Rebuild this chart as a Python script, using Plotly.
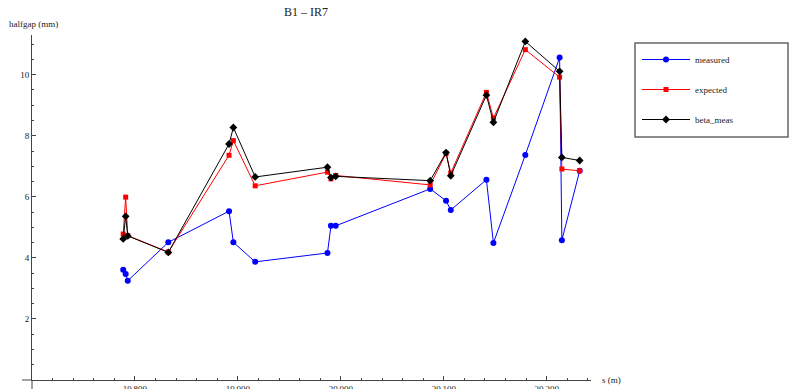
import plotly.graph_objects as go

# Collimator longitudinal positions (m) and half-gaps (mm)
s_pos = [19788.6, 19791.0, 19793.0, 19832.4, 19891.4, 19895.6, 19916.8,
         19987.0, 19990.4, 19995.0, 20086.8, 20102.2, 20106.8, 20141.4,
         20148.2, 20179.2, 20212.5, 20214.7, 20232.0]
measured = [3.61, 3.47, 3.25, 4.51, 5.53, 4.51, 3.87, 4.16, 5.05, 5.05,
            6.26, 5.87, 5.57, 6.56, 4.49, 7.37, 10.56, 4.58, 6.85]
expected = [4.78, 5.99, 4.73, 4.19, 7.36, 7.84, 6.36, 6.81, 6.59, 6.70,
            6.39, 7.42, 6.78, 9.42, 8.58, 10.82, 9.92, 6.91, 6.85]
beta_meas = [4.62, 5.36, 4.72, 4.18, 7.73, 8.27, 6.65, 6.97, 6.63, 6.67,
             6.53, 7.45, 6.69, 9.33, 8.44, 11.09, 10.11, 7.29, 7.19]

x_ticks = [19800, 19900, 20000, 20100, 20200]
x_labels = ["19\u2009800", "19\u2009900", "20\u2009000", "20\u2009100", "20\u2009200"]
y_ticks = [2, 4, 6, 8, 10]

FONT = "'Liberation Serif', 'Times New Roman', serif"
W, H = 789, 389
ML, MR, MT, MB = 32, 198, 35, 9
PW, PH = W - ML - MR, H - MT - MB

fig = go.Figure()
series = [
    ("measured", measured, "#0000ff", "circle", 6),
    ("expected", expected, "#ff0000", "square", 5),
    ("beta_meas", beta_meas, "#000000", "diamond", 6),
]
for name, vals, col, sym, sz in series:
    fig.add_trace(go.Scatter(
        x=s_pos, y=vals, name=name, mode="lines+markers",
        line=dict(color=col, width=1),
        marker=dict(color=col, symbol=sym, size=sz, line=dict(width=0)),
        legendgroup=name,
    ))

def px_x(p):
    return (p - ML) / PW

def px_y(p):
    return (H - MB - p) / PH

axis_common = dict(
    showgrid=False, zeroline=False, showline=True, linecolor="#444",
    linewidth=1, ticks="inside", ticklen=4, tickcolor="#444",
    automargin=False,
    tickfont=dict(family=FONT, size=9, color="#222"),
)

fig.update_layout(
    width=W, height=H,
    margin=dict(l=ML, r=MR, t=MT, b=MB),
    paper_bgcolor="white", plot_bgcolor="white",
    font=dict(family=FONT, size=9, color="#222"),
    title=dict(text="B1 \u2013 IR7", xref="container", x=306 / W,
               xanchor="center", y=1 - 12 / H, yanchor="middle",
               font=dict(family=FONT, size=12, color="#222")),
    xaxis=dict(range=[19700, 20243], tickmode="array", tickvals=x_ticks,
               ticktext=x_labels,
               minor=dict(tick0=19700, dtick=20, ticks="inside", ticklen=2,
                          tickcolor="#444"),
               **axis_common),
    yaxis=dict(range=[0, 11.3], tickmode="array", tickvals=y_ticks,
               minor=dict(tick0=0, dtick=0.5, ticks="inside", ticklen=2,
                          tickcolor="#444"),
               **axis_common),
    showlegend=True,
    legend=dict(x=px_x(637), y=px_y(45), xanchor="left", yanchor="top",
                bgcolor="rgba(0,0,0,0)", borderwidth=0,
                tracegroupgap=11, itemwidth=48,
                font=dict(family=FONT, size=9, color="#222")),
    shapes=[
        # axis stubs beyond the origin
        dict(type="line", xref="paper", yref="paper", x0=px_x(22), x1=0,
             y0=0, y1=0, line=dict(color="#444", width=1)),
        dict(type="line", xref="paper", yref="paper", x0=0, x1=0,
             y0=px_y(H + 2), y1=0, line=dict(color="#444", width=1)),
        # legend frame
        dict(type="rect", xref="paper", yref="paper",
             x0=px_x(635), x1=px_x(788), y0=px_y(137), y1=px_y(43),
             line=dict(color="#666", width=1.5), fillcolor="rgba(0,0,0,0)"),
    ],
    annotations=[
        dict(text="halfgap (mm)", xref="paper", yref="paper",
             x=px_x(7), y=px_y(24), xanchor="left", yanchor="middle",
             showarrow=False, font=dict(family=FONT, size=9, color="#222")),
        dict(text="s (m)", xref="paper", yref="paper",
             x=px_x(600), y=px_y(380), xanchor="left", yanchor="middle",
             showarrow=False, font=dict(family=FONT, size=9, color="#222")),
    ],
)

fig.write_html("out.html")
